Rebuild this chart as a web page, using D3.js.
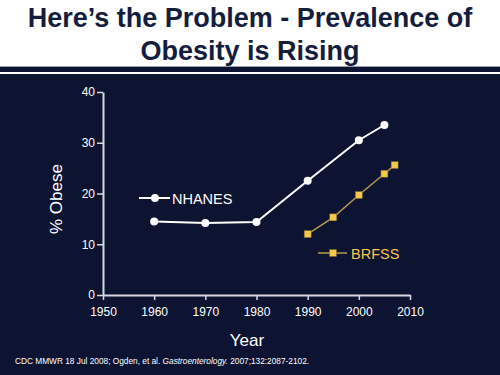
<!DOCTYPE html>
<html>
<head>
<meta charset="utf-8">
<script src="https://cdn.jsdelivr.net/npm/d3@7"></script>
<style>
  body { margin: 0; padding: 0; background: #fff; }
  svg { display: block; font-family: "Liberation Sans", Arial, sans-serif; }
</style>
</head>
<body>
<svg id="chart" width="500" height="375"></svg>
<script>
// data
var nhanesYears = [1960, 1970, 1980, 1990, 2000, 2005];
var nhanesValues = [14.5, 14.2, 14.4, 22.5, 30.5, 33.5];
var brfssYears = [1990, 1995, 2000, 2005, 2007];
var brfssValues = [12.0, 15.3, 19.7, 23.9, 25.6];
var xTicks = [1950, 1960, 1970, 1980, 1990, 2000, 2010];
var yTicks = [0, 10, 20, 30, 40];

var navy = "#0d1431";
var svg = d3.select("#chart");

// header
svg.append("rect").attr("x", 0).attr("y", 0).attr("width", 500).attr("height", 375).attr("fill", "#fff");
svg.append("rect").attr("x", 0).attr("y", 74).attr("width", 500).attr("height", 301).attr("fill", navy);
svg.append("rect").attr("x", 0).attr("y", 66).attr("width", 500).attr("height", 1).attr("fill", "#9aa0b0");
svg.append("rect").attr("x", 0).attr("y", 67).attr("width", 500).attr("height", 5).attr("fill", navy);

var titleLines = ["Here\u2019s the Problem - Prevalence of", "Obesity is Rising"];
svg.selectAll(".title")
    .data(titleLines)
    .enter()
    .append("text")
    .attr("class", "title")
    .attr("x", 250)
    .attr("y", function(d, i) { return 27 + i * 33; })
    .attr("text-anchor", "middle")
    .attr("font-size", 27)
    .attr("font-weight", "bold")
    .attr("fill", "#141d3d")
    .text(function(d) { return d; });

// scales
var x = d3.scaleLinear().domain([1950, 2010]).range([103, 410]);
var y = d3.scaleLinear().domain([0, 40]).range([295, 92]);
var axisColor = "#d8d8de";

var xAxis = svg.append("g")
    .attr("transform", "translate(0,295)")
    .call(d3.axisBottom(x).tickValues(xTicks).tickFormat(d3.format("d")).tickSize(5).tickSizeOuter(0));
var yAxis = svg.append("g")
    .attr("transform", "translate(103,0)")
    .call(d3.axisLeft(y).tickValues(yTicks).tickSize(6).tickSizeOuter(0));

[xAxis, yAxis].forEach(function(a) {
  a.select(".domain").attr("stroke", axisColor).attr("stroke-width", 2);
  a.selectAll(".tick line").attr("stroke", axisColor).attr("stroke-width", 1.5);
  a.selectAll(".tick text").attr("fill", "#fff").attr("font-size", 12)
      .attr("font-family", "Liberation Sans, Arial, sans-serif");
});
xAxis.selectAll(".tick text").attr("dy", "1.05em");
yAxis.selectAll(".tick text").attr("x", -8);

// axis titles
svg.append("text")
    .attr("transform", "translate(62,199) rotate(-90)")
    .attr("text-anchor", "middle")
    .attr("font-size", 17)
    .attr("fill", "#fff")
    .text("% Obese");
svg.append("text")
    .attr("x", 247)
    .attr("y", 346)
    .attr("text-anchor", "middle")
    .attr("font-size", 17)
    .attr("fill", "#fff")
    .text("Year");

// NHANES
var nhanes = nhanesYears.map(function(d, i) { return [d, nhanesValues[i]]; });
var brfss = brfssYears.map(function(d, i) { return [d, brfssValues[i]]; });
var line = d3.line().x(function(d) { return x(d[0]); }).y(function(d) { return y(d[1]); });

svg.append("path").datum(nhanes)
    .attr("d", line).attr("fill", "none").attr("stroke", "#fff").attr("stroke-width", 2);
svg.selectAll(".nh").data(nhanes).enter().append("circle")
    .attr("class", "nh")
    .attr("cx", function(d) { return x(d[0]); })
    .attr("cy", function(d) { return y(d[1]); })
    .attr("r", 4).attr("fill", "#fff");

// BRFSS
var gold = "#f5c84a";
svg.append("path").datum(brfss)
    .attr("d", line).attr("fill", "none").attr("stroke", "#b49a4e").attr("stroke-width", 1.5);
svg.selectAll(".br").data(brfss).enter().append("rect")
    .attr("class", "br")
    .attr("x", function(d) { return x(d[0]) - 3.5; })
    .attr("y", function(d) { return y(d[1]) - 3.5; })
    .attr("width", 7).attr("height", 7)
    .attr("fill", gold).attr("stroke", "#6e5e30").attr("stroke-width", 0.5);

// legends
svg.append("line").attr("x1", 139).attr("x2", 170).attr("y1", 198).attr("y2", 198)
    .attr("stroke", "#fff").attr("stroke-width", 2);
svg.append("circle").attr("cx", 155).attr("cy", 198).attr("r", 4).attr("fill", "#fff");
svg.append("text").attr("x", 172).attr("y", 204).attr("font-size", 14.5).attr("fill", "#fff").text("NHANES");

svg.append("line").attr("x1", 318).attr("x2", 347).attr("y1", 253).attr("y2", 253)
    .attr("stroke", "#b49a4e").attr("stroke-width", 1.5);
svg.append("rect").attr("x", 329.5).attr("y", 249.5).attr("width", 7).attr("height", 7)
    .attr("fill", gold).attr("stroke", "#6e5e30").attr("stroke-width", 0.5);
svg.append("text").attr("x", 351).attr("y", 259).attr("font-size", 14.5).attr("fill", gold).text("BRFSS");

// footnote
var foot = svg.append("text").attr("x", 15).attr("y", 364).attr("font-size", 8.3).attr("fill", "#fff");
foot.append("tspan").text("CDC MMWR 18 Jul 2008; Ogden, et al. ");
foot.append("tspan").attr("font-style", "italic").text("Gastroenterology.");
foot.append("tspan").text(" 2007;132:2087-2102.");
</script>
</body>
</html>
